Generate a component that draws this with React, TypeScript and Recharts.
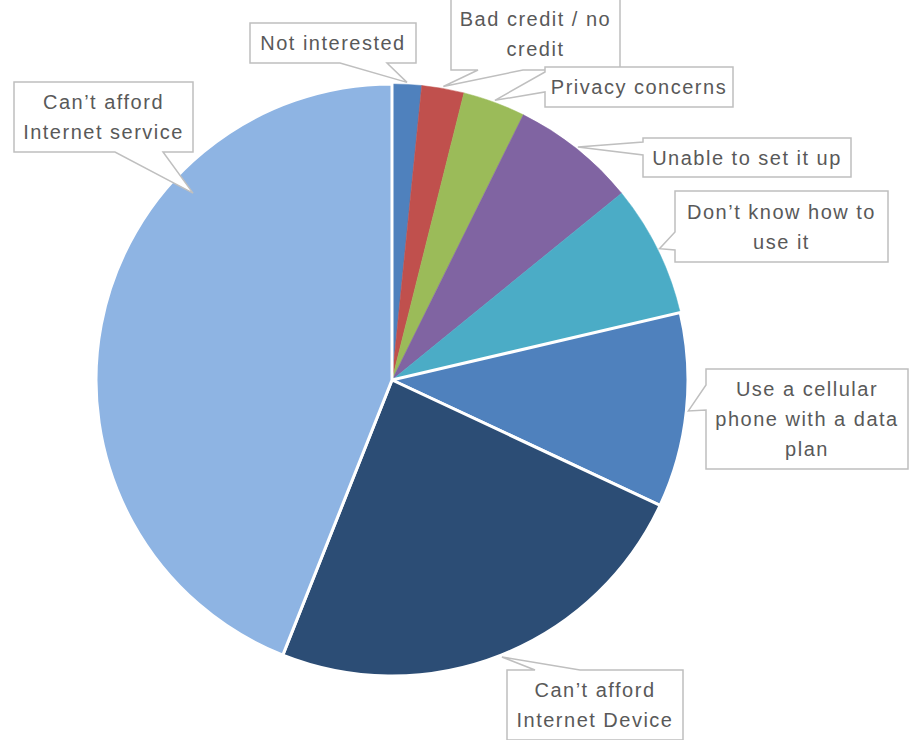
import { PieChart, Pie, Cell } from 'recharts';

// reasons for not having internet at home, share of respondents (%)
const categories = [
  'Not interested',
  'Bad credit / no credit',
  'Privacy concerns',
  'Unable to set it up',
  'Don’t know how to use it',
  'Use a cellular phone with a data plan',
  'Can’t afford Internet Device',
  'Can’t afford Internet service',
];
const shares = [1.6, 2.3, 3.4, 6.8, 7.2, 10.6, 24.0, 43.9];
const labelLines = [
  ['Not interested'],
  ['Bad credit / no', 'credit'],
  ['Privacy concerns'],
  ['Unable to set it up'],
  ['Don’t know how to', 'use it'],
  ['Use a cellular', 'phone with a data', 'plan'],
  ['Can’t afford', 'Internet Device'],
  ['Can’t afford', 'Internet service'],
];
const colors = ['#4F81BD', '#C0504D', '#9BBB59', '#8064A2', '#4BACC6', '#4F81BD', '#2C4D75', '#8EB4E3'];
const separated = [false, false, false, false, false, true, true, true];

const data = categories.map((name, i) => ({ name, value: shares[i] }));

// callout boxes: box rect, which edge the pointer leaves from, and the pointer base span
type Callout = {
  x: number; y: number; w: number; h: number;
  side: 'left' | 'top' | 'bottom';
  b1: number; b2: number;
  tipAngle?: number; tipRadius?: number;
};
const CALLOUTS: Callout[] = [
  { x: 250, y: 23, w: 166, h: 40, side: 'bottom', b1: 340, b2: 387 },
  { x: 451, y: -3, w: 169, h: 73, side: 'bottom', b1: 478, b2: 523 },
  { x: 545, y: 67, w: 188, h: 40, side: 'left', b1: 72, b2: 92 },
  { x: 643, y: 138, w: 208, h: 39, side: 'left', b1: 142, b2: 155 },
  { x: 675, y: 191, w: 213, h: 71, side: 'left', b1: 232, b2: 250 },
  { x: 706, y: 369, w: 202, h: 100, side: 'left', b1: 385, b2: 410 },
  { x: 507, y: 670, w: 176, h: 70, side: 'top', b1: 535, b2: 580 },
  { x: 14, y: 82, w: 179, h: 70, side: 'bottom', b1: 115, b2: 163, tipAngle: 136.8, tipRadius: 273 },
];

const RAD = Math.PI / 180;

const calloutPath = (c: Callout, tx: number, ty: number) => {
  const { x, y, w, h, side, b1, b2 } = c;
  if (side === 'left') {
    return `M${x},${y} L${x + w},${y} L${x + w},${y + h} L${x},${y + h} L${x},${b2} L${tx},${ty} L${x},${b1} Z`;
  }
  if (side === 'top') {
    return `M${x},${y} L${b1},${y} L${tx},${ty} L${b2},${y} L${x + w},${y} L${x + w},${y + h} L${x},${y + h} Z`;
  }
  return `M${x},${y} L${x + w},${y} L${x + w},${y + h} L${b2},${y + h} L${tx},${ty} L${b1},${y + h} L${x},${y + h} Z`;
};

const renderCallout = (props: any) => {
  const { cx, cy, midAngle, outerRadius, index } = props;
  const c = CALLOUTS[index];
  const angle = c.tipAngle ?? midAngle;
  const r = c.tipRadius ?? outerRadius + 2;
  const tx = cx + r * Math.cos(-angle * RAD);
  const ty = cy + r * Math.sin(-angle * RAD);
  const lines = labelLines[index];
  const midY = c.y + c.h / 2;
  return (
    <g key={`callout-${index}`}>
      <path d={calloutPath(c, tx, ty)} fill="#fff" stroke="#BFBFBF" strokeWidth={1.5} />
      {lines.map((line, j) => (
        <text
          key={j}
          x={c.x + c.w / 2}
          y={midY + (j - (lines.length - 1) / 2) * 30}
          textAnchor="middle"
          dominantBaseline="central"
          fill="#595959"
          fontSize={20}
          letterSpacing={1.5}
          fontFamily="'Liberation Sans', Arial, sans-serif"
        >
          {line}
        </text>
      ))}
    </g>
  );
};

export default function App() {
  return (
    <div style={{ width: 914, height: 740, background: '#fff' }}>
      <style>{`body{margin:0}`}</style>
      <PieChart width={914} height={740} margin={{ top: 0, right: 0, bottom: 0, left: 0 }}>
        <Pie
          data={data}
          dataKey="value"
          nameKey="name"
          cx={392}
          cy={380}
          outerRadius={296}
          startAngle={90}
          endAngle={-270}
          label={renderCallout}
          labelLine={false}
          isAnimationActive={false}
        >
          {data.map((entry, index) => (
            <Cell
              key={`cell-${index}`}
              fill={colors[index]}
              stroke={separated[index] ? '#fff' : colors[index]}
              strokeWidth={separated[index] ? 3 : 0.5}
            />
          ))}
        </Pie>
      </PieChart>
    </div>
  );
}
